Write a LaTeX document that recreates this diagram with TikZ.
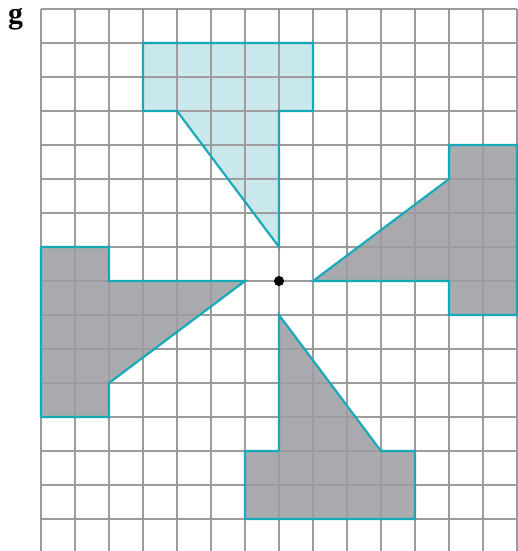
\documentclass[tikz,border=0pt]{standalone}
\usepackage{fontspec}
\newfontfamily\lblfont{Liberation Serif}
\begin{document}
\begin{tikzpicture}[x=1cm,y=1cm,
  gridline/.style={draw=gridgray,line width=1.3pt},
  outline/.style={draw=tealline,line width=1.8pt,line join=miter},
  grayshape/.style={outline,fill=shapegray},
  lightshape/.style={outline,fill=lightteal}]
\definecolor{gridgray}{HTML}{9C9C9F}
\definecolor{shapegray}{HTML}{A9AAAE}
\definecolor{lightteal}{HTML}{CAE7EB}
\definecolor{tealline}{HTML}{14A9B9}
\useasboundingbox (-8.206,-7.941) rectangle (7.0,8.265);
% fills
\fill[lightteal] (-4,7) -- (1,7) -- (1,5) -- (0,5) -- (0,1) -- (-3,5) -- (-4,5) -- cycle;
\fill[shapegray] (5,4) -- (7,4) -- (7,-1) -- (5,-1) -- (5,0) -- (1,0) -- (5,3) -- cycle;
\fill[shapegray] (0,-1) -- (3,-5) -- (4,-5) -- (4,-7) -- (-1,-7) -- (-1,-5) -- (0,-5) -- cycle;
\fill[shapegray] (-1,0) -- (-5,-3) -- (-5,-4) -- (-7,-4) -- (-7,1) -- (-5,1) -- (-5,0) -- cycle;
% grid
\foreach \i in {-7,...,7} \draw[gridline] (\i,8) -- (\i,-7.941);
\foreach \j in {-7,...,8} \draw[gridline] (-7,\j) -- (7,\j);
% outlines
\draw[outline] (-4,7) -- (1,7) -- (1,5) -- (0,5) -- (0,1) -- (-3,5) -- (-4,5) -- cycle;
\draw[outline] (5,4) -- (7,4) -- (7,-1) -- (5,-1) -- (5,0) -- (1,0) -- (5,3) -- cycle;
\draw[outline] (0,-1) -- (3,-5) -- (4,-5) -- (4,-7) -- (-1,-7) -- (-1,-5) -- (0,-5) -- cycle;
\draw[outline] (-1,0) -- (-5,-3) -- (-5,-4) -- (-7,-4) -- (-7,1) -- (-5,1) -- (-5,0) -- cycle;
% centre
\fill[black] (0,0) circle (0.15);
\node[anchor=base,font=\lblfont\fontsize{25}{27}\selectfont\bfseries,inner sep=0pt] (lbl) at (-7.75,7.56) {g};
\end{tikzpicture}
\end{document}
